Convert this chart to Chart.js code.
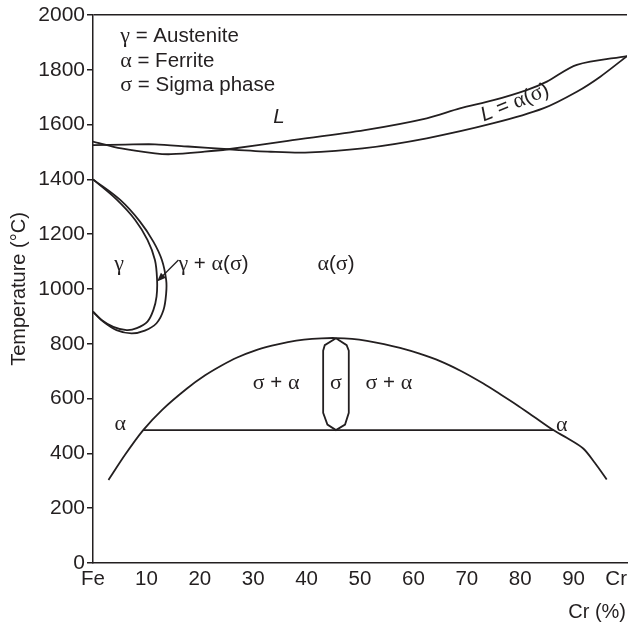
<!DOCTYPE html>
<html>
<head>
<meta charset="utf-8">
<script src="https://cdn.jsdelivr.net/npm/chart.js@4/dist/chart.umd.min.js"></script>
<style>
  html, body { margin: 0; padding: 0; background: #fff; }
</style>
</head>
<body>
<canvas id="graf" width="628" height="626"></canvas>
<script>
// axis ticks
const xTicks = [0, 10, 20, 30, 40, 50, 60, 70, 80, 90, 100];
const xTickLabels = ["Fe", "10", "20", "30", "40", "50", "60", "70", "80", "90", "Cr"];

// liquidus / solidus (Cr %, °C)
const liqX = [0, 5.3, 11.6, 14.6, 20.9, 25.3, 36.5, 50.9, 62.5, 68.7, 75, 81.2, 85, 90.6, 100];
const liqT = [1538, 1513, 1495, 1492, 1501, 1510, 1541, 1580, 1623, 1659, 1689, 1726, 1757, 1818, 1850];
const solX = [0, 6, 11.6, 17.8, 25.3, 33.3, 39.7, 50.5, 62.5, 75, 84.3, 90.6, 95, 100];
const solT = [1525, 1527, 1528, 1520, 1510, 1501, 1498, 1513, 1550, 1605, 1659, 1720, 1775, 1850];

// gamma loop
const loopOutX = [0, 5.1, 8.8, 11.3, 12.9, 13.7, 13.7, 13.2, 11.9, 9.7, 7.2, 4.4, 1.9, 0];
const loopOutT = [1400, 1325, 1246, 1173, 1106, 1033, 984, 923, 875, 848, 838, 850, 881, 917];
const loopInX = [0, 4.4, 7.9, 10.2, 11.6, 12.0, 11.9, 11.3, 10.2, 8.2, 6.3, 3.8, 1.6, 0];
const loopInT = [1400, 1327, 1252, 1179, 1106, 1033, 972, 923, 881, 857, 850, 862, 887, 917];

// sigma + alpha dome, eutectoid line, sigma field
const domeX = [2.9, 6, 9.4, 13, 17.6, 21, 24, 27, 30.3, 33.5, 36.5, 39.5, 42.8, 45.5,
  48.5, 51.3, 54.5, 57.5, 61, 65, 69, 73.1, 76.2, 79.3, 82.5, 86.2, 88.7, 91.8, 94, 96.2];
const domeT = [303, 395, 485, 560, 637, 685, 720, 750, 775, 793, 806, 815, 820, 821,
  818, 811, 799, 785, 765, 737, 700, 655, 617, 578, 535, 485, 457, 418, 365, 305];
const tieX = [9.4, 86.2];
const tieT = [485, 485];
const sigX = [45.5, 43.4, 43.1, 43.1, 43.9, 45.5, 47.2, 47.9, 47.9, 47.5, 45.5];
const sigT = [820, 795, 775, 548, 505, 485, 505, 548, 775, 795, 820];

// labels in the plot
const notes = [
  { text: "γ = Austenite", x: 5.1, y: 1923, align: "left" },
  { text: "α = Ferrite", x: 5.1, y: 1832, align: "left" },
  { text: "σ = Sigma phase", x: 5.1, y: 1745, align: "left" },
  { text: "L", x: 34.8, y: 1628 },
  { text: "L = α(σ)", x: 79, y: 1680, rot: -22 },
  { text: "γ", x: 4.9, y: 1091 },
  { text: "γ + α(σ)", x: 16, y: 1091, align: "left" },
  { text: "α(σ)", x: 45.5, y: 1091 },
  { text: "σ + α", x: 34.3, y: 657 },
  { text: "σ", x: 45.5, y: 657 },
  { text: "σ + α", x: 55.4, y: 657 },
  { text: "α", x: 5.1, y: 507 },
  { text: "α", x: 87.8, y: 504 }
];
const arrowFrom = [16, 1106];
const arrowTo = [12, 1027];

const ink = "#231f20";
const sans = "'Liberation Sans', Arial, sans-serif";
const serif = "'Liberation Serif', 'Times New Roman', serif";

function pts(xs, ts) {
  return xs.map((x, i) => ({ x: x, y: ts[i] }));
}

function curve(xs, ts, tension) {
  return {
    data: pts(xs, ts),
    showLine: true,
    pointRadius: 0,
    borderColor: ink,
    borderWidth: 1.8,
    tension: tension,
    fill: false
  };
}

// split a label into runs: greek letters in serif, L in italic
function runs(text) {
  const out = [];
  for (const ch of text) {
    const kind = /[\u0370-\u03ff]/.test(ch) ? "g" : (ch === "L" ? "i" : "s");
    if (out.length && out[out.length - 1].kind === kind) out[out.length - 1].t += ch;
    else out.push({ kind: kind, t: ch });
  }
  return out;
}

function fontFor(kind, size) {
  if (kind === "g") return (size + 1.5) + "px " + serif;
  if (kind === "i") return "italic " + size + "px " + sans;
  return size + "px " + sans;
}

function drawText(ctx, text, x, y, align, size, rot) {
  const parts = runs(text);
  let w = 0;
  parts.forEach(p => {
    ctx.font = fontFor(p.kind, size);
    p.w = ctx.measureText(p.t).width;
    w += p.w;
  });
  ctx.save();
  ctx.translate(x, y);
  if (rot) ctx.rotate(rot * Math.PI / 180);
  let cx = align === "left" ? 0 : align === "right" ? -w : -w / 2;
  ctx.textBaseline = "middle";
  ctx.textAlign = "left";
  ctx.fillStyle = ink;
  parts.forEach(p => {
    ctx.font = fontFor(p.kind, size);
    ctx.fillText(p.t, cx, 0);
    cx += p.w;
  });
  ctx.restore();
}

const textPlugin = {
  id: "texts",
  afterDatasetsDraw(chart) {
    const ctx = chart.ctx;
    const sx = chart.scales.x;
    const sy = chart.scales.y;

    // x tick labels, kept inside the canvas
    ctx.font = "20.5px " + sans;
    xTicks.forEach((v, i) => {
      const w = ctx.measureText(xTickLabels[i]).width;
      let px = sx.getPixelForValue(v);
      px = Math.min(px, chart.width - w / 2 - 1);
      drawText(ctx, xTickLabels[i], px, 579, "center", 20.5);
    });
    drawText(ctx, "Cr (%)", chart.width - 2, 612, "right", 20);

    notes.forEach(n => {
      drawText(ctx, n.text, sx.getPixelForValue(n.x), sy.getPixelForValue(n.y),
        n.align || "center", 20.5, n.rot || 0);
    });

    // arrow to the gamma + alpha band
    const x0 = sx.getPixelForValue(arrowFrom[0]), y0 = sy.getPixelForValue(arrowFrom[1]);
    const x1 = sx.getPixelForValue(arrowTo[0]), y1 = sy.getPixelForValue(arrowTo[1]);
    const a = Math.atan2(y1 - y0, x1 - x0);
    ctx.save();
    ctx.strokeStyle = ink;
    ctx.fillStyle = ink;
    ctx.lineWidth = 1.3;
    ctx.beginPath();
    ctx.moveTo(x0, y0);
    ctx.lineTo(x1 - 6 * Math.cos(a), y1 - 6 * Math.sin(a));
    ctx.stroke();
    ctx.beginPath();
    ctx.moveTo(x1, y1);
    ctx.lineTo(x1 - 9 * Math.cos(a) + 3.5 * Math.sin(a), y1 - 9 * Math.sin(a) - 3.5 * Math.cos(a));
    ctx.lineTo(x1 - 9 * Math.cos(a) - 3.5 * Math.sin(a), y1 - 9 * Math.sin(a) + 3.5 * Math.cos(a));
    ctx.closePath();
    ctx.fill();
    ctx.restore();
  }
};

new Chart(document.getElementById("graf"), {
  type: "scatter",
  data: {
    datasets: [
      curve(liqX, liqT, 0.3),
      curve(solX, solT, 0.3),
      curve(loopOutX, loopOutT, 0.35),
      curve(loopInX, loopInT, 0.35),
      curve(domeX, domeT, 0.3),
      curve(tieX, tieT, 0),
      curve(sigX, sigT, 0)
    ]
  },
  options: {
    responsive: false,
    animation: false,
    layout: { padding: { top: 15, right: 1, left: 0, bottom: 0 } },
    plugins: { legend: { display: false }, tooltip: { enabled: false } },
    scales: {
      x: {
        type: "linear",
        min: 0,
        max: 100,
        ticks: { display: false },
        grid: { display: false },
        border: { display: true, color: ink, width: 1.5 },
        afterFit: s => { s.height = 63; }
      },
      y: {
        type: "linear",
        min: 0,
        max: 2000,
        ticks: {
          stepSize: 200,
          color: ink,
          padding: 2,
          font: { family: sans, size: 21 },
          callback: v => String(v)
        },
        grid: {
          color: c => (c.tick && c.tick.value === 2000 ? ink : "rgba(0,0,0,0)"),
          tickColor: ink,
          tickLength: 6,
          lineWidth: 1.5
        },
        border: { display: true, color: ink, width: 1.5 },
        title: {
          display: true,
          text: "Temperature (°C)",
          color: ink,
          font: { family: sans, size: 20 },
          padding: { top: 7, bottom: 0 }
        },
        afterFit: s => { s.width = 93; }
      }
    }
  },
  plugins: [textPlugin]
});
</script>
</body>
</html>
